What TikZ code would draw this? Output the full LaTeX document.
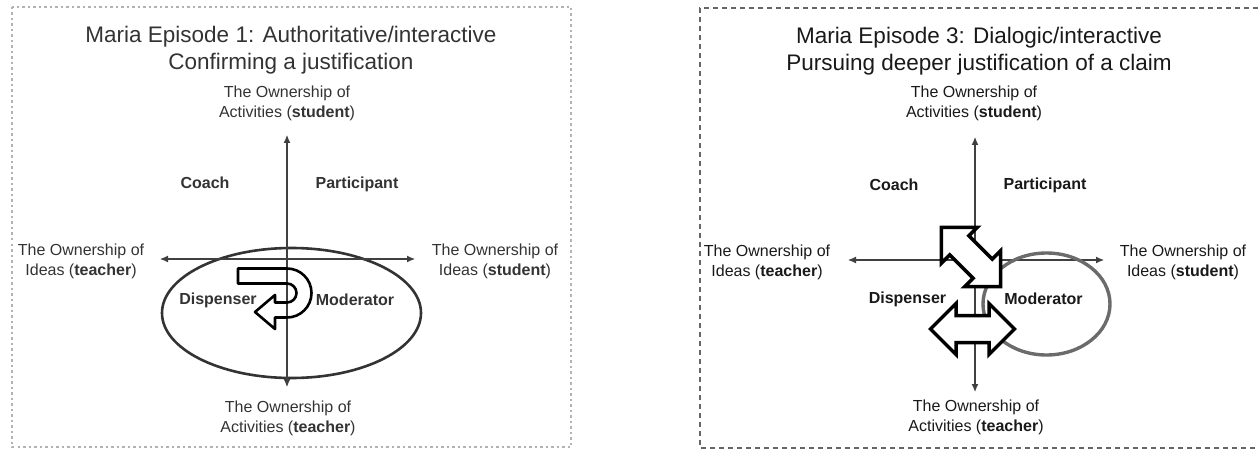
\documentclass[tikz,border=0pt]{standalone}
\usepackage{fontspec}
\setmainfont{Liberation Sans}
\usetikzlibrary{arrows.meta}

\begin{document}
\begin{tikzpicture}[x=1pt, y=-1pt,
  ttl/.style={font=\fontsize{22.5}{27.5}\selectfont, align=center, inner sep=0pt},
  lab/.style={font=\fontsize{16}{20}\selectfont, align=center, inner sep=0pt},
  role/.style={font=\fontsize{16}{20}\selectfont\bfseries, inner sep=0pt},
  axis/.style={draw=black!75, line width=1.1pt, {Latex[length=8pt,width=7pt]}-{Latex[length=8pt,width=7pt]}},
  fatarrow/.style={draw=black, fill=white, line width=3.5pt, line join=miter}]

\useasboundingbox (0,0) rectangle (1258,449);

% --- Episode 1 (left panel) ---
\draw[black!30, line width=1.6pt, dash pattern=on 2.5pt off 3pt] (12,7) rectangle (571,447);
\node (e1_title) [ttl, text=black!80] at (291,50) {Maria Episode 1: Authoritative/interactive\\Confirming a justification};

\coordinate (e1_top) at (287,135);
\coordinate (e1_bot) at (287,387);
\coordinate (e1_left) at (160,259);
\coordinate (e1_right) at (415,259);

\draw[black!80, line width=2.6pt] (291.5,313) ellipse [x radius=129.5, y radius=65];
\draw[axis] (e1_bot) -- (e1_top);
\draw[axis] (e1_left) -- (e1_right);

\node (e1_acts) [lab, text=black!80] at (287,103) {The Ownership of\\Activities (\textbf{student})};
\node (e1_actt) [lab, text=black!80] at (288,418) {The Ownership of\\Activities (\textbf{teacher})};
\node (e1_idt) [lab, text=black!80] at (81,261.5) {The Ownership of\\Ideas (\textbf{teacher})};
\node (e1_ids) [lab, text=black!80] at (495,261.5) {The Ownership of\\Ideas (\textbf{student})};
\node (e1_coach) [role, text=black!80] at (205,183) {Coach};
\node (e1_part) [role, text=black!80] at (357,184) {Participant};
\node (e1_disp) [role, text=black!80] at (218,300) {Dispenser};
\node (e1_mod) [role, text=black!80] at (355,300) {Moderator};

% u-turn arrow
\draw[black, line width=2.6pt, line join=round]
  (238,268.5) -- (287,268.5) arc[start angle=-90, end angle=90, radius=24.5]
  -- (275,317.5) -- (275,329) -- (255,312) -- (275,295) -- (275,302.5)
  -- (287,302.5) arc[start angle=90, end angle=-90, radius=9.5]
  -- (238,283.5) -- cycle;

% --- Episode 3 (right panel) ---
\draw[black!60, line width=1.2pt, dash pattern=on 5pt off 4pt] (1258,8) -- (700,8) -- (700,448) -- (1258,448);
\node (e3_title) [ttl, text=black!90] at (979,51) {Maria Episode 3: Dialogic/interactive\\Pursuing deeper justification of a claim};

\coordinate (e3_top) at (975,137);
\coordinate (e3_bot) at (975,392);
\coordinate (e3_left) at (848,260);
\coordinate (e3_right) at (1104,260);

\draw[axis] (e3_bot) -- (e3_top);
\draw[axis] (e3_left) -- (e3_right);
\draw[black!58, line width=3.4pt] (1046.5,304) ellipse [x radius=63.5, y radius=51];

\node (e3_acts) [lab, text=black!90] at (974,103.5) {The Ownership of\\Activities (\textbf{student})};
\node (e3_actt) [lab, text=black!90] at (976,417) {The Ownership of\\Activities (\textbf{teacher})};
\node (e3_idt) [lab, text=black!90] at (767,262) {The Ownership of\\Ideas (\textbf{teacher})};
\node (e3_ids) [lab, text=black!90] at (1183,262) {The Ownership of\\Ideas (\textbf{student})};
\node (e3_coach) [role, text=black!90] at (894,185) {Coach};
\node (e3_part) [role, text=black!90] at (1045,185) {Participant};
\node (e3_disp) [role, text=black!90] at (907.5,299) {Dispenser};
\node (e3_mod) [role, text=black!90] at (1043.5,299) {Moderator};

% double arrows
\begin{scope}[shift={(971,257)}, rotate=-45]
  \draw[fatarrow] (42,0) -- (16.5,25.5) -- (16.5,13.5) -- (-16.5,13.5) -- (-16.5,25.5) -- (-42,0)
    -- (-16.5,-25.5) -- (-16.5,-13.5) -- (16.5,-13.5) -- (16.5,-25.5) -- cycle;
\end{scope}
\begin{scope}[shift={(972.5,329)}]
  \draw[fatarrow] (42,0) -- (16.5,25.5) -- (16.5,13.5) -- (-16.5,13.5) -- (-16.5,25.5) -- (-42,0)
    -- (-16.5,-25.5) -- (-16.5,-13.5) -- (16.5,-13.5) -- (16.5,-25.5) -- cycle;
\end{scope}

\end{tikzpicture}
\end{document}
